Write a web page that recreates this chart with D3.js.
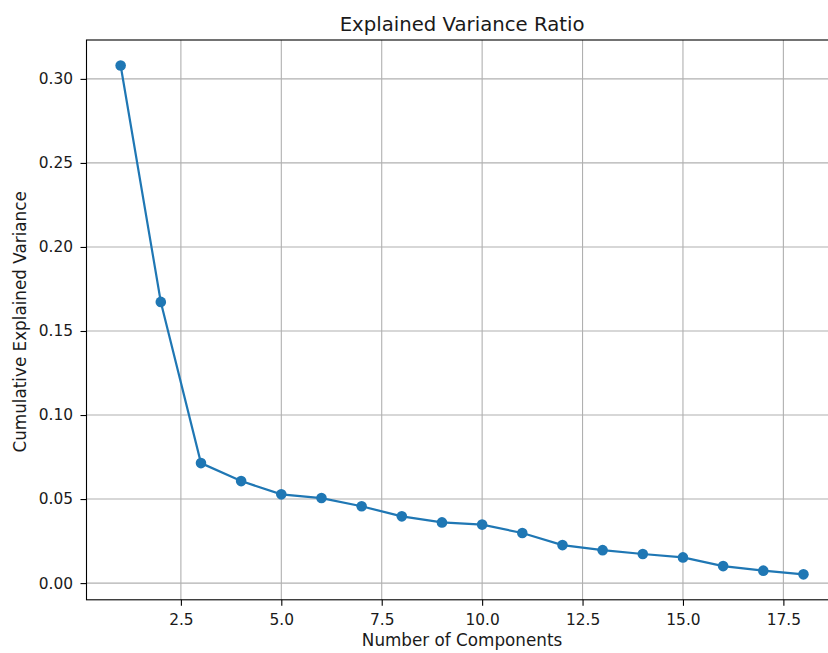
<!DOCTYPE html>
<html>
<head>
  <meta charset="utf-8">
  <title>Explained Variance Ratio</title>
  <script src="https://d3js.org/d3.v7.min.js"></script>
  <style>
    body { margin: 0; background: #fff; }
    svg { display: block; font-family: "DejaVu Sans", sans-serif; }
    .grid line { stroke: #b0b0b0; stroke-width: 1.1px; }
    .axis line { stroke: #000; stroke-width: 1.1px; }
  </style>
</head>
<body>
  <script>
    // Data
    const components = [1, 2, 3, 4, 5, 6, 7, 8, 9, 10, 11, 12, 13, 14, 15, 16, 17, 18];
    const varianceRatio = [0.308, 0.1673, 0.0714, 0.0607, 0.0528, 0.0506, 0.0457, 0.0397, 0.0361,
                           0.0348, 0.0298, 0.0226, 0.0196, 0.0173, 0.0153, 0.0101, 0.0074, 0.0052];
    const xTicks = [2.5, 5.0, 7.5, 10.0, 12.5, 15.0, 17.5];
    const yTicks = [0.00, 0.05, 0.10, 0.15, 0.20, 0.25, 0.30];

    const width = 828;
    const height = 653;
    const margin = { top: 40, left: 86.5, bottom: 599.8, right: 837.6 };
    const tickFont = "15.4px";
    const labelFont = "16.8px";

    const data = components.map((c, i) => ({ x: c, y: varianceRatio[i] }));

    // matplotlib style 5% margins
    const xPad = (d3.max(components) - d3.min(components)) * 0.05;
    const yPad = (d3.max(varianceRatio) - d3.min(varianceRatio)) * 0.05;

    const x = d3.scaleLinear()
        .domain([d3.min(components) - xPad, d3.max(components) + xPad])
        .range([margin.left, margin.right]);
    const y = d3.scaleLinear()
        .domain([d3.min(varianceRatio) - yPad, d3.max(varianceRatio) + yPad])
        .range([margin.bottom, margin.top]);

    const svg = d3.select("body").append("svg")
        .attr("width", width)
        .attr("height", height);

    // grid
    const grid = svg.append("g").attr("class", "grid");
    grid.selectAll(".gx").data(xTicks).join("line")
        .attr("x1", d => x(d)).attr("x2", d => x(d))
        .attr("y1", margin.top).attr("y2", margin.bottom);
    grid.selectAll(".gy").data(yTicks).join("line")
        .attr("x1", margin.left).attr("x2", margin.right)
        .attr("y1", d => y(d)).attr("y2", d => y(d));

    // frame
    svg.append("rect")
        .attr("x", margin.left).attr("y", margin.top)
        .attr("width", margin.right - margin.left)
        .attr("height", margin.bottom - margin.top)
        .attr("fill", "none").attr("stroke", "#000").attr("stroke-width", 1.1);

    // axes
    const xAxis = svg.append("g").attr("class", "axis")
        .attr("transform", `translate(0,${margin.bottom})`)
        .call(d3.axisBottom(x).tickValues(xTicks).tickFormat(d3.format(".1f"))
          .tickSize(6).tickPadding(8.2).tickSizeOuter(0));
    xAxis.select(".domain").remove();

    const yAxis = svg.append("g").attr("class", "axis")
        .attr("transform", `translate(${margin.left},0)`)
        .call(d3.axisLeft(y).tickValues(yTicks).tickFormat(d3.format(".2f"))
          .tickSize(6).tickPadding(7.5).tickSizeOuter(0));
    yAxis.select(".domain").remove();

    svg.selectAll(".axis")
        .attr("font-family", "DejaVu Sans, sans-serif")
        .attr("font-size", null);
    svg.selectAll(".axis text")
        .style("font-size", tickFont)
        .style("font-family", "DejaVu Sans, sans-serif")
        .attr("fill", "#1a1a1a");

    // line + markers
    const line = d3.line().x(d => x(d.x)).y(d => y(d.y));
    svg.append("path")
        .datum(data)
        .attr("d", line)
        .attr("fill", "none")
        .attr("stroke", "#1f77b4")
        .attr("stroke-width", 2.2);

    svg.selectAll(".dot").data(data).join("circle")
        .attr("cx", d => x(d.x))
        .attr("cy", d => y(d.y))
        .attr("r", 5.3)
        .attr("fill", "#1f77b4");

    // labels
    svg.append("text")
        .attr("x", (margin.left + margin.right) / 2)
        .attr("y", 31)
        .attr("text-anchor", "middle")
        .attr("fill", "#1a1a1a")
        .style("font-size", "19.7px")
        .text("Explained Variance Ratio");

    svg.append("text")
        .attr("x", (margin.left + margin.right) / 2)
        .attr("y", 646)
        .attr("text-anchor", "middle")
        .attr("fill", "#1a1a1a")
        .style("font-size", labelFont)
        .text("Number of Components");

    svg.append("text")
        .attr("transform", `translate(25.5,${(margin.top + margin.bottom) / 2 + 2}) rotate(-90)`)
        .attr("text-anchor", "middle")
        .attr("fill", "#1a1a1a")
        .style("font-size", labelFont)
        .text("Cumulative Explained Variance");
  </script>
</body>
</html>
